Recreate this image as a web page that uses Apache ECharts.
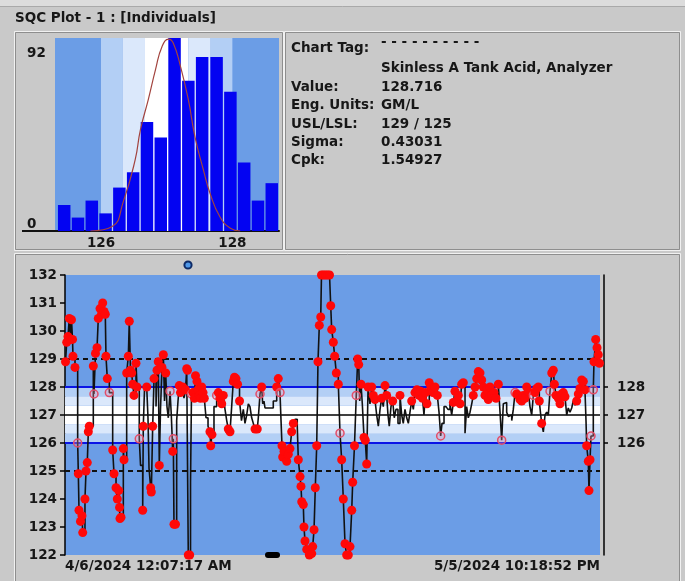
<!DOCTYPE html>
<html>
<head>
<meta charset="utf-8">
<script src="https://cdn.jsdelivr.net/npm/echarts@6/dist/echarts.min.js"></script>
<style>
  html, body { margin: 0; padding: 0; background: #c9c9c9; }
  #chart { width: 685px; height: 581px; }
</style>
</head>
<body>
<div id="chart"></div>
<script>
// SQC individuals chart: histogram with fitted curve, tag details and the time-ordered readings
const FONT = 'DejaVu Sans';
const INK = '#171717';

// Limits (GM/L)
const centerLine = 127;
const controlLimits = [128, 126];
const specLimits = [129, 125];
// Zone edges between the control limits and their shading
const zoneEdges = [126, 126.33, 126.67, 127.33, 127.67, 128];
const zoneColors = ['#b3cff5', '#dbe8fb', '#ffffff', '#dbe8fb', '#b3cff5'];

// Histogram bins (centre of each bin) and counts
const binCenters = [125.44, 125.65, 125.86, 126.07, 126.28, 126.49, 126.70, 126.91,
                    127.12, 127.33, 127.54, 127.76, 127.97, 128.18, 128.39, 128.60];
const binCounts = [12.4, 6.4, 14.5, 8.4, 20.7, 28, 52, 44.6, 92, 71.6, 83, 83, 66.4, 32.6, 14.5, 22.8];
// Fitted distribution curve
const fitX = [125.84, 126.17, 126.34, 126.52, 126.60, 126.72, 126.83, 126.93, 127.03,
              127.10, 127.21, 127.33, 127.43, 127.56, 127.66, 127.81, 127.97, 128.12];
const fitY = [0, 2.1, 14, 33.9, 48.2, 62.6, 76.9, 88, 91.5, 89.6, 78.5, 62.6, 45, 29, 18, 6.8, 1.3, 0];
const histXLabels = [126, 128];
const histYLabels = ['92', '0'];

// Tag details
const infoLabels = ['Chart Tag:', '', 'Value:', 'Eng. Units:', 'USL/LSL:', 'Sigma:', 'Cpk:'];
const infoValues = ['- - - - - - - - - -', 'Skinless A Tank Acid, Analyzer', '128.716', 'GM/L', '129 / 125', '0.43031', '1.54927'];

// Readings: hours after the first sample, measured value, marker kind
// (r = rule violation, o = warning, n = plain)
const hours = [
  0.7, 2.3, 4.0, 5.8, 7.4, 8.7, 10.1, 10.7, 13.4, 17.0,
  17.9, 18.8, 20.8, 22.8, 23.8, 26.8, 28.2, 29.9, 31.3, 32.6,
  38.0, 38.9, 40.9, 43.0, 44.7, 47.0, 49.0, 50.6, 52.4, 54.1,
  55.0, 56.8, 59.5, 64.0, 65.8, 68.5, 70.2, 72.1, 73.2, 73.8,
  75.2, 78.3, 79.2, 82.8, 85.0, 86.3, 87.9, 89.5, 90.9, 92.6,
  95.3, 96.7, 99.7, 101.4, 104.3, 105.1, 106.7, 109.7, 111.4, 112.8,
  115.0, 115.9, 117.7, 119.5, 122.2, 123.5, 125.2, 126.6, 128.2, 130.2,
  132.0, 133.6, 135.2, 136.9, 138.7, 141.0, 142.7, 144.6, 145.4, 146.3,
  148.3, 149.9, 151.7, 153.4, 155.0, 158.0, 159.7, 161.8, 163.4, 164.4,
  165.5, 167.4, 168.5, 169.8, 171.8, 173.8, 175.2, 177.2, 178.5, 180.3,
  181.9, 183.5, 185.3, 187.0, 189.3, 192.0, 194.6, 195.6, 197.3, 200.0,
  203.6, 205.8, 208.1, 210.4, 212.5, 214.8, 217.1, 219.2, 221.5, 223.5,
  225.9, 227.5, 229.5, 231.6, 234.3, 236.9, 239.4, 241.6, 243.9, 246.1,
  248.3, 250.6, 252.8, 255.1, 258.1, 259.5, 261.8, 264.0, 265.4, 267.1,
  268.5, 275.2, 279.6, 284.2, 286.3, 288.6, 290.0, 291.3, 292.2, 294.0,
  297.6, 299.8, 302.0, 304.3, 306.5, 308.8, 311.8, 313.2, 315.5, 316.8,
  317.8, 319.9, 320.8, 322.2, 324.5, 328.0, 331.2, 332.5, 334.3, 336.0,
  337.9, 339.6, 341.4, 343.3, 344.3, 347.0, 349.7, 352.4, 355.1, 356.7,
  358.0, 360.2, 362.0, 364.2, 366.9, 369.2, 371.4, 373.6, 375.9, 378.1,
  380.3, 382.6, 384.9, 386.2, 388.6, 391.0, 392.9, 394.3, 395.6, 397.4,
  399.1, 401.4, 403.1, 405.0, 406.8, 409.4, 411.7, 413.9, 416.1, 418.4,
  420.6, 422.9, 425.1, 427.3, 429.6, 431.8, 433.6, 435.3, 437.6, 439.9,
  442.0, 444.3, 447.0, 449.7, 452.0, 454.1, 456.4, 458.7, 460.9, 463.1,
  465.4, 467.6, 469.8, 472.5, 475.2, 477.2, 479.9, 481.9, 483.9, 485.9,
  489.0, 491.3, 494.0, 496.7, 499.8, 502.1, 504.3, 506.1, 508.8, 511.5,
  514.1, 516.8, 519.1, 521.3, 523.5, 525.8, 528.0, 530.3, 532.5, 534.7,
  537.0, 539.2, 541.4, 543.7, 546.0, 548.1, 550.4, 552.7, 554.8, 557.1,
  559.4, 561.5, 563.8, 566.1, 568.2, 570.5, 572.8, 575.9, 578.6, 581.7,
  584.0, 586.2, 588.4, 590.7, 592.9, 595.1, 597.4, 599.7, 601.8, 604.2,
  606.3, 608.5, 610.8, 613.1, 615.2, 617.5, 619.8, 621.9, 624.2, 626.5,
  628.7, 631.0, 633.2, 635.4, 636.7, 638.6, 639.9, 642.1, 644.4, 646.6,
  648.8, 651.1, 653.4, 655.5, 656.9, 659.2, 662.3, 664.5, 666.8, 669.0,
  671.2, 673.5, 675.6, 677.9, 680.2, 682.3, 684.6, 686.9, 689.1, 691.3,
  693.6, 695.8, 698.0, 699.4, 700.3, 702.5, 703.4, 704.8, 706.1, 709.2,
  710.1, 712.4, 714.2, 715.9, 717.5
];
const values = [
  128.9, 129.6, 129.8, 130.45, 129.7, 130.4, 129.7, 129.1, 128.7, 126.0,
  124.9, 123.6, 123.2, 123.4, 122.8, 124.0, 125.0, 125.3, 126.4, 126.6,
  128.75, 127.75, 129.2, 129.4, 130.45, 130.8, 130.6, 131.0, 130.7, 130.6,
  129.1, 128.3, 127.8, 125.75, 124.9, 124.4, 124.0, 124.3, 123.7, 123.3,
  123.35, 125.8, 125.4, 128.5, 129.1, 130.35, 128.6, 128.5, 128.1, 127.7,
  128.85, 128.0, 126.15, 125.2, 123.6, 126.6, 127.9, 128.0, 126.9, 125.1,
  124.4, 124.25, 126.6, 128.3, 127.3, 128.6, 128.9, 125.2, 127.2, 128.7,
  129.15, 127.5, 128.5, 127.3, 126.9, 127.85, 127.0, 125.7, 126.15, 123.1,
  123.1, 126.8, 127.5, 128.05, 127.8, 128.0, 127.6, 127.9, 128.65, 128.6,
  122.0, 122.0, 124.6, 127.75, 127.8, 127.6, 128.4, 128.2, 127.9, 127.7,
  127.6, 128.0, 127.8, 127.6, 126.9, 126.6, 126.4, 125.9, 126.3, 127.3,
  127.7, 127.8, 127.6, 127.4, 127.7, 127.2, 126.8, 126.5, 126.4, 127.2,
  128.2, 128.35, 128.3, 128.1, 127.5, 126.8, 127.2, 126.7, 127.0, 127.4,
  127.3, 126.9, 126.7, 126.5, 126.5, 126.9, 127.75, 128.0, 127.4, 127.5,
  127.25, 127.25, 127.5, 128.0, 128.3, 127.8, 126.8, 125.9, 125.5, 125.7,
  125.35, 125.6, 125.8, 126.4, 126.7, 126.85, 126.6, 125.4, 124.8, 124.45,
  123.9, 123.8, 123.0, 122.5, 122.2, 122.0, 122.05, 122.3, 122.9, 124.4,
  125.9, 128.9, 130.2, 130.5, 132.0, 132.0, 132.0, 132.0, 132.0, 130.9,
  130.05, 129.6, 129.1, 128.5, 128.1, 126.35, 125.4, 124.0, 122.4, 122.0,
  122.0, 122.3, 123.6, 124.6, 125.9, 127.7, 129.0, 128.8, 127.5, 128.1,
  127.4, 126.2, 126.1, 125.25, 128.0, 127.4, 128.0, 127.7, 127.55, 127.0,
  126.6, 127.2, 127.6, 127.3, 128.05, 127.7, 127.0, 126.6, 127.3, 127.5,
  126.9, 127.2, 126.7, 127.7, 127.0, 126.7, 127.2, 126.9, 126.7, 127.1,
  127.5, 127.2, 127.8, 127.9, 127.7, 127.85, 127.6, 127.0, 127.8, 127.4,
  128.15, 128.0, 127.8, 128.0, 127.7, 127.1, 126.25, 126.7, 127.3, 127.3,
  127.2, 127.4, 127.0, 127.45, 127.85, 127.5, 127.7, 127.4, 128.1, 128.15,
  126.35, 127.3, 126.9, 127.1, 127.4, 127.7, 128.0, 128.3, 128.55, 128.5,
  128.25, 128.0, 127.7, 127.9, 127.55, 128.0, 127.7, 127.8, 127.6, 128.1,
  127.1, 126.1, 127.4, 127.45, 127.1, 126.95, 127.0, 126.8, 127.2, 127.8,
  127.75, 127.7, 127.55, 127.5, 127.7, 127.6, 128.0, 127.85, 127.3, 127.0,
  127.7, 127.8, 127.95, 128.0, 127.5, 127.0, 126.7, 126.4, 127.0, 127.1,
  127.0, 127.85, 128.5, 128.6, 128.1, 127.7, 127.6, 127.4, 127.75, 127.8,
  127.65, 127.0, 127.25, 127.1, 127.25, 127.5, 127.35, 127.5, 127.75, 127.95,
  128.25, 128.2, 127.9, 126.8, 125.9, 125.35, 124.3, 125.4, 126.25, 127.9,
  128.9, 129.7, 129.4, 129.15, 128.85
];
const marks = (
  'rrrrrrrrro' + 'rrrrrrrrrr' + 'rorrrrrrrr' + 'rrorrrrrrr' + 'rrrrrrrrrr' +
  'rronrrnrnn' + 'rrrrnrrrnr' + 'rnrnnonror' + 'rnnrrrnrrr' + 'rrnorrrrrr' +
  'rrrrnnrrrn' + 'orrrrnnrrn' + 'rrrrrnnnnn' + 'nnnrrnornn' + 'nnnrronrrr' +
  'rrrrrnnrrr' + 'rrrrrrrrrr' + 'rrrrrrrrrr' + 'rrrrrorrrr' + 'rrrrrorrnr' +
  'nrrrrnrrrn' + 'nnrnrrnnnr' + 'nnnrnnnnnn' + 'rnrrrrrnrr' + 'rrrrrnonnn' +
  'nnnrrrrrrr' + 'nnnnnrrrrr' + 'rrrrrrrrrr' + 'nonnnnnnno' + 'rrrrrrrrnn' +
  'orrrrnrnnn' + 'norrrrrrrr' + 'rnnnnnnrrr' + 'rrrnrrrroo' + 'rrrrr'
).split('');
const spanHours = 718.19;
const dateLabels = ['4/6/2024 12:07:17 AM', '5/5/2024 10:18:52 PM'];
const rightAxisLabels = [128, 127, 126];

const PLOT_BLUE = '#6b9de6';
const labelFont = { fontFamily: FONT, fontWeight: 'bold', fontSize: 13.5, color: INK };

const readingItems = hours.map((h, i) => {
  const kind = marks[i];
  const item = { value: [h, values[i]] };
  if (kind === 'r') {
    item.symbol = 'circle';
    item.symbolSize = 9;
    item.itemStyle = { color: '#ff0808' };
  } else if (kind === 'o') {
    item.symbol = 'circle';
    item.symbolSize = 8;
    item.itemStyle = { color: 'rgba(255,150,170,0.3)', borderColor: '#e24d68', borderWidth: 1.5 };
  } else {
    item.symbol = 'none';
  }
  return item;
});

function bands(axisKey) {
  return zoneColors.map((c, i) => [
    { [axisKey]: zoneEdges[i], itemStyle: { color: c } },
    { [axisKey]: zoneEdges[i + 1] }
  ]);
}

const limitLines = [
  { yAxis: controlLimits[0], lineStyle: { color: '#0a14e6', width: 2, type: 'solid' } },
  { yAxis: controlLimits[1], lineStyle: { color: '#0a14e6', width: 2, type: 'solid' } },
  { yAxis: centerLine, lineStyle: { color: '#000', width: 1.5, type: 'solid' } },
  { yAxis: specLimits[0], lineStyle: { color: '#111', width: 2, type: [5, 4] } },
  { yAxis: specLimits[1], lineStyle: { color: '#111', width: 2, type: [5, 4] } }
];

const graphics = [
  // window chrome
  { type: 'rect', shape: { x: 0, y: 0, width: 685, height: 6 }, style: { fill: '#dcdcdc' }, silent: true },
  { type: 'line', shape: { x1: 0, y1: 6.5, x2: 685, y2: 6.5 }, style: { stroke: '#a9a9a9', lineWidth: 1 }, silent: true },
  { type: 'text', x: 15, y: 18, style: { text: 'SQC Plot - 1 : [Individuals]', ...labelFont, fill: INK, verticalAlign: 'middle' } },
  // panel frames
  { type: 'rect', shape: { x: 14.5, y: 31.5, width: 269, height: 219 }, style: { fill: null, stroke: '#f1f1f1', lineWidth: 1 } },
  { type: 'rect', shape: { x: 15.5, y: 32.5, width: 267, height: 217 }, style: { fill: null, stroke: '#8e8e8e', lineWidth: 1 } },
  { type: 'rect', shape: { x: 284.5, y: 31.5, width: 396, height: 219 }, style: { fill: null, stroke: '#f1f1f1', lineWidth: 1 } },
  { type: 'rect', shape: { x: 285.5, y: 32.5, width: 394, height: 217 }, style: { fill: null, stroke: '#8e8e8e', lineWidth: 1 } },
  { type: 'rect', shape: { x: 14.5, y: 253.5, width: 666, height: 330 }, style: { fill: null, stroke: '#f1f1f1', lineWidth: 1 } },
  { type: 'rect', shape: { x: 15.5, y: 254.5, width: 664, height: 330 }, style: { fill: null, stroke: '#8e8e8e', lineWidth: 1 } },
  // histogram baseline running into the label gutter
  { type: 'line', shape: { x1: 22, y1: 231, x2: 56, y2: 231 }, style: { stroke: '#111', lineWidth: 2 } },
  { type: 'text', x: 27, y: 53, style: { text: histYLabels[0], ...labelFont, fill: INK, verticalAlign: 'middle' } },
  { type: 'text', x: 27, y: 224, style: { text: histYLabels[1], ...labelFont, fill: INK, verticalAlign: 'middle' } },
  // time range
  { type: 'text', x: 65, y: 566, style: { text: dateLabels[0], ...labelFont, fill: INK, verticalAlign: 'middle', align: 'left' } },
  { type: 'text', x: 600, y: 566, style: { text: dateLabels[1], ...labelFont, fill: INK, verticalAlign: 'middle', align: 'right' } },
  // scroll markers
  { type: 'circle', shape: { cx: 188, cy: 265, r: 3.6 }, style: { fill: '#4f98e8', stroke: '#0d2a66', lineWidth: 2 } },
  { type: 'rect', shape: { x: 265, y: 552, width: 15, height: 6, r: 3 }, style: { fill: '#000' }, z: 100 }
];

// tag details block
infoLabels.forEach((t, i) => {
  const y = [48, 68, 87, 105, 124, 142, 160][i];
  if (t) graphics.push({ type: 'text', x: 291, y, style: { text: t, ...labelFont, fill: INK, verticalAlign: 'middle' } });
  const vy = i === 0 ? 42 : y;
  graphics.push({ type: 'text', x: 381, y: vy, style: { text: infoValues[i], ...labelFont, fill: INK, verticalAlign: 'middle' } });
});

const chart = echarts.init(document.getElementById('chart'), null, { renderer: 'canvas' });
chart.setOption({
  animation: false,
  backgroundColor: '#c9c9c9',
  grid: [
    { left: 55, top: 38, width: 224, height: 193, show: true, backgroundColor: PLOT_BLUE, borderWidth: 0 },
    { left: 65, top: 275, width: 535, height: 280, show: true, backgroundColor: PLOT_BLUE, borderWidth: 0 }
  ],
  xAxis: [
    {
      gridIndex: 0, type: 'value', min: 125.3, max: 128.71,
      axisLine: { show: true, lineStyle: { color: '#111', width: 2 } },
      axisTick: { show: false }, splitLine: { show: false },
      axisLabel: { customValues: histXLabels, margin: 5, ...labelFont }
    },
    { gridIndex: 1, type: 'value', min: 0, max: spanHours, show: false }
  ],
  yAxis: [
    { gridIndex: 0, type: 'value', min: 0, max: 92, show: false },
    {
      gridIndex: 1, type: 'value', min: 122, max: 132, interval: 1, offset: 2,
      axisLine: { show: true, lineStyle: { color: '#000', width: 1.5 } },
      axisTick: { show: true, length: 5, lineStyle: { color: '#000', width: 1.5 } },
      splitLine: { show: false },
      axisLabel: { margin: 6, ...labelFont }
    },
    {
      gridIndex: 1, type: 'value', min: 122, max: 132, interval: 1, position: 'right', offset: 4,
      axisLine: { show: true, lineStyle: { color: '#000', width: 1.5 } },
      axisTick: { show: true, length: 4, customValues: rightAxisLabels, lineStyle: { color: '#000', width: 1.5 } },
      splitLine: { show: false },
      axisLabel: { customValues: rightAxisLabels, margin: 13, ...labelFont }
    }
  ],
  series: [
    {
      name: 'hist zones', type: 'line', xAxisIndex: 0, yAxisIndex: 0, data: [], z: 1, silent: true,
      markArea: { silent: true, data: bands('xAxis') }
    },
    {
      name: 'Frequency', type: 'bar', xAxisIndex: 0, yAxisIndex: 0, z: 2, silent: true,
      barWidth: 12.5,
      itemStyle: { color: '#0303f2' },
      data: binCenters.map((c, i) => [c, binCounts[i]])
    },
    {
      name: 'Fit', type: 'line', xAxisIndex: 0, yAxisIndex: 0, z: 3, silent: true,
      smooth: true, symbol: 'none',
      lineStyle: { color: '#a2433e', width: 1.2 },
      data: fitX.map((x, i) => [x, fitY[i]])
    },
    {
      name: 'limits', type: 'line', xAxisIndex: 1, yAxisIndex: 1, data: [], z: 1, silent: true,
      markArea: { silent: true, data: bands('yAxis') },
      markLine: { silent: true, symbol: ['none', 'none'], label: { show: false }, data: limitLines }
    },
    {
      name: 'Individuals', type: 'line', xAxisIndex: 1, yAxisIndex: 1, z: 5, silent: true,
      step: 'end', clip: false, showSymbol: true, showAllSymbol: true,
      lineStyle: { color: '#111', width: 1.6 },
      data: readingItems
    }
  ],
  graphic: graphics
});
</script>
</body>
</html>
